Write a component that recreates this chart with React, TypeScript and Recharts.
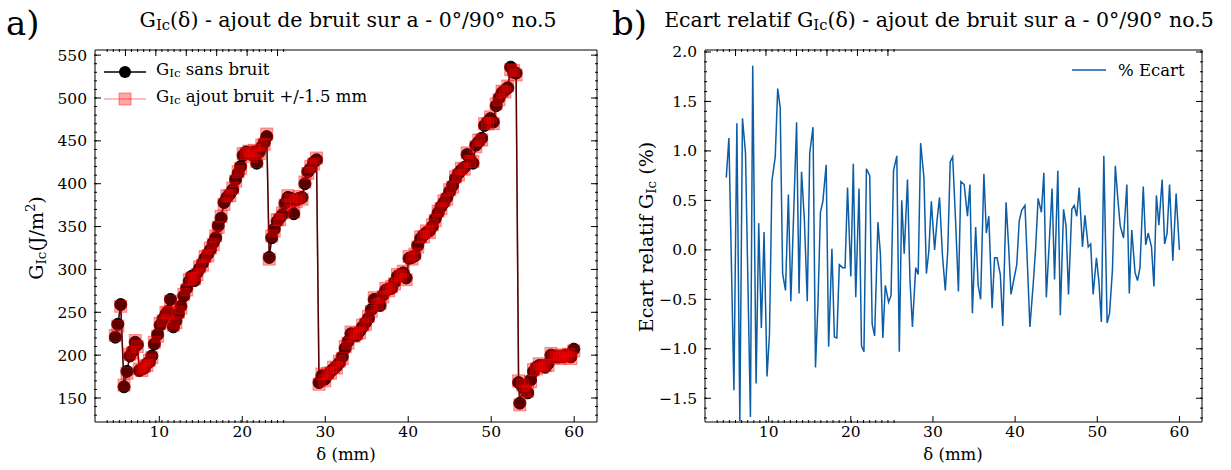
import React from "react";
import { ComposedChart, LineChart, Line, XAxis, YAxis } from "recharts";

// delta (mm) for the G_Ic curves
const gx = [
  4.7, 5.0, 5.35, 5.75, 6.1, 6.45, 6.8, 7.1, 7.35, 7.6,
  7.9, 8.2, 8.5, 8.8, 9.1, 9.4, 9.8, 10.1, 10.45, 10.8,
  11.05, 11.35, 11.7, 12.0, 12.3, 12.6, 12.95, 13.3, 13.6, 13.9,
  14.25, 14.55, 14.85, 15.2, 15.5, 15.85, 16.15, 16.5, 16.8, 17.1,
  17.45, 17.8, 18.15, 18.5, 18.85, 19.2, 19.5, 19.8, 20.1, 20.45,
  20.8, 21.1, 21.45, 21.75, 22.05, 22.35, 22.65, 22.95, 23.25, 23.55,
  23.85, 24.2, 24.5, 24.85, 25.15, 25.5, 25.85, 26.2, 26.5, 26.85,
  27.2, 27.55, 27.9, 28.25, 28.6, 28.95, 29.25, 29.6, 29.95, 30.3,
  30.65, 31.0, 31.35, 31.7, 32.05, 32.4, 32.75, 33.1, 33.45, 33.8,
  34.15, 34.5, 34.85, 35.2, 35.55, 35.9, 36.25, 36.6, 36.95, 37.3,
  37.65, 38.0, 38.35, 38.7, 39.05, 39.4, 39.75, 40.1, 40.45, 40.8,
  41.15, 41.5, 41.85, 42.2, 42.55, 42.9, 43.25, 43.6, 43.95, 44.3,
  44.65, 45.0, 45.35, 45.7, 46.05, 46.4, 46.75, 47.1, 47.45, 47.8,
  48.15, 48.5, 48.85, 49.2, 49.55, 49.9, 50.25, 50.6, 50.95, 51.3,
  51.65, 52.0, 52.35, 52.7, 53.0, 53.3, 53.45, 53.8, 54.1, 54.4,
  54.75, 55.1, 55.45, 55.8, 56.15, 56.5, 56.85, 57.2, 57.55, 57.9,
  58.25, 58.6, 58.95, 59.3, 59.6, 59.95,
];

const gSans = [
  221, 236, 259, 163, 181, 199, 205, 215, 212, 182,
  184, 185, 190, 192, 199, 213, 224, 235, 242, 248,
  251, 265, 233, 240, 248, 257, 269, 278, 286, 292,
  287, 296, 301, 307, 313, 318, 323, 331, 337, 351,
  360, 378, 384, 388, 393, 405, 412, 420, 433, 437,
  436, 434, 437, 424, 437, 443, 448, 455, 314, 337,
  347, 356, 360, 364, 377, 384, 383, 365, 381, 383,
  384, 400, 414, 418, 425, 428, 168, 176, 172, 177,
  181, 184, 187, 191, 198, 208, 216, 225, 224, 223,
  228, 233, 238, 243, 253, 265, 260, 258, 270, 276,
  277, 278, 285, 292, 294, 296, 290, 313, 314, 316,
  328, 336, 340, 343, 345, 350, 359, 366, 373, 378,
  384, 391, 398, 406, 412, 416, 419, 434, 428, 424,
  445, 449, 453, 468, 472, 476, 472, 491, 500, 506,
  509, 512, 536, 530, 529, 168, 144, 163, 160, 156,
  171, 181, 186, 188, 188, 186, 190, 200, 199, 198,
  198, 198, 200, 199, 198, 207,
];

const gBruit = [
  223, 234, 257, 165, 179, 201, 203, 217, 210, 184,
  182, 187, 188, 194, 197, 215, 222, 237, 240, 250,
  249, 263, 235, 238, 250, 255, 271, 276, 288, 290,
  289, 294, 303, 305, 315, 316, 325, 329, 339, 349,
  362, 376, 386, 386, 395, 403, 414, 418, 435, 435,
  438, 432, 439, 426, 435, 445, 446, 458, 312, 339,
  345, 358, 358, 366, 375, 386, 381, 367, 379, 385,
  382, 402, 412, 420, 423, 430, 166, 178, 170, 179,
  179, 186, 185, 193, 196, 210, 214, 227, 222, 225,
  226, 235, 236, 245, 251, 267, 258, 260, 268, 278,
  275, 280, 283, 294, 292, 298, 288, 315, 312, 318,
  326, 338, 338, 345, 343, 352, 357, 368, 371, 380,
  382, 393, 396, 408, 410, 418, 417, 436, 426, 426,
  443, 451, 451, 470, 470, 478, 470, 493, 498, 508,
  507, 514, 533, 532, 527, 170, 142, 165, 158, 158,
  169, 183, 184, 190, 186, 188, 188, 202, 197, 200,
  196, 200, 198, 201, 196, 205,
];

// delta (mm) and relative gap (%) for panel b
const ex = [
  4.84, 5.16, 5.77, 6.13, 6.49, 6.81, 7.18, 7.78, 8.06, 8.47,
  8.79, 9.11, 9.44, 9.8, 10.1, 10.4, 10.8, 11.1, 11.4, 11.7,
  12.05, 12.4, 12.7, 13.4, 13.7, 14.0, 14.35, 14.7, 15.0, 15.4,
  15.7, 16.0, 16.3, 16.6, 17.0, 17.3, 17.7, 18.0, 18.3, 18.6,
  19.0, 19.3, 19.6, 20.0, 20.3, 20.6, 21.0, 21.3, 21.6, 21.9,
  22.3, 22.6, 22.9, 23.3, 23.6, 23.9, 24.2, 24.6, 24.9, 25.2,
  25.6, 25.9, 26.2, 26.5, 26.9, 27.2, 27.5, 27.9, 28.2, 28.5,
  28.9, 29.2, 29.5, 29.8, 30.2, 30.5, 30.8, 31.15, 31.5, 31.8,
  32.1, 32.4, 32.75, 33.1, 33.4, 33.8, 34.2, 34.5, 34.8, 35.2,
  35.5, 35.8, 36.2, 36.5, 36.8, 37.2, 37.5, 37.8, 38.2, 38.5,
  38.9, 39.2, 39.5, 39.8, 40.2, 40.5, 40.8, 41.2, 41.5, 41.8,
  42.2, 42.5, 42.8, 43.2, 43.5, 43.8, 44.2, 44.5, 44.8, 45.2,
  45.5, 45.9, 46.2, 46.5, 46.9, 47.2, 47.5, 47.8, 48.2, 48.5,
  48.9, 49.2, 49.5, 49.9, 50.2, 50.5, 50.8, 51.2, 51.5, 51.85,
  52.2, 52.5, 52.8, 53.2, 53.6, 53.9, 54.2, 54.6, 54.9, 55.2,
  55.6, 55.9, 56.2, 56.6, 56.9, 57.2, 57.5, 57.9, 58.2, 58.5,
  58.8, 59.2, 59.6, 60.0,
];

const ecart = [
  0.73, 1.13, -1.42, 1.28, -1.73, 1.33, 0.98, -1.69, 1.86, -1.35,
  0.27, -0.79, 0.18, -1.28, -0.85, 0.7, 0.94, 1.63, 1.44, -0.24,
  -0.41, 0.56, -0.52, 1.29, -0.44, 0.79, 0.3, -0.52, 0.98, 1.24,
  -1.19, -0.55, 0.38, 0.49, 0.86, -0.98, 0.01, -0.88, -0.89, -0.15,
  -0.18, -0.18, 0.63, -0.27, 0.87, -0.48, 0.62, -0.97, -1.03, 0.82,
  0.75, -0.75, -0.87, 0.28, -0.04, -0.89, -0.36, -0.53, -0.46, 0.8,
  0.95, -1.03, 0.5, -0.04, 0.71, -0.3, -0.78, -0.18, -0.25, 1.08,
  0.73, -0.24, -0.01, 0.49, 0.0, 0.3, 0.53, -0.05, -0.41, -0.01,
  0.89, 0.94, 0.3, -0.42, 0.69, 0.66, 0.34, 0.66, -0.64, 0.23,
  -0.36, -0.5, 0.77, 0.17, 0.34, -0.59, -0.08, -0.08, -0.25, -0.77,
  0.48, 0.05, -0.45, -0.32, -0.15, 0.29, 0.4, 0.45, -0.15, -0.78,
  -0.35, 0.02, 0.52, 0.38, 0.78, -0.48, 0.14, 0.62, -0.3, 0.8,
  -0.66, 0.41, 0.24, -0.45, 0.41, 0.45, 0.34, 0.63, 0.03, 0.35,
  0.03, 0.06, -0.45, -0.08, -0.32, -0.73, 0.95, -0.74, -0.64, -0.2,
  0.85, 0.52, 0.24, 0.12, 0.66, -0.44, 0.2, -0.23, -0.31, -0.18,
  0.64, 0.05, 0.17, 0.03, -0.37, 0.55, 0.25, 0.71, 0.06, 0.17,
  0.66, -0.11, 0.57, 0.0,
];

const xMajor = [10, 20, 30, 40, 50, 60];
const gMajor = [150, 200, 250, 300, 350, 400, 450, 500, 550];
const eMajor = [-1.5, -1.0, -0.5, 0.0, 0.5, 1.0, 1.5, 2.0];

function range(a: number, b: number, s: number) {
  const out: number[] = [];
  for (let v = a; v <= b + 1e-9; v += s) out.push(Math.round(v * 100) / 100);
  return out;
}

const xMinor = range(4, 62, 2);
const gMinor = range(130, 550, 10);
const eMinor = range(-1.7, 2.0, 0.1);

const X_DOMAIN = [2.25, 62.75];
const FONT = "DejaVu Serif";
const BLUE = "#0C5DA5";
const TXT = 16.5;
const tickStyle = { fill: "#000", fontSize: 15.5, fontFamily: FONT };
const empty = () => "";

const leftData = gx.map((x, i) => ({ x, sans: gSans[i], bruit: gBruit[i] }));
const rightData = ex.map((x, i) => ({ x, ecart: ecart[i] }));

const fmtE = (v: number) => v.toFixed(1).replace("-", "\u2212");

// ticks inside on all four sides, like the scienceplots style
// (axes need a size of at least 1px or recharts skips them)
function frame(yDomain: number[], yMajor: number[], yMinor: number[], yFmt?: (v: number) => string) {
  const line = { stroke: "#000", strokeWidth: 1 };
  return [
    <XAxis key="xb" xAxisId="x" type="number" dataKey="x" domain={X_DOMAIN} ticks={xMajor}
      allowDataOverflow interval={0} height={1} tickSize={-6} tickMargin={10}
      tick={tickStyle} axisLine={line} tickLine={line} />,
    <XAxis key="xbm" xAxisId="xbm" type="number" domain={X_DOMAIN} ticks={xMinor}
      allowDataOverflow interval={0} height={1} tickSize={-3} tickFormatter={empty}
      axisLine={false} tickLine={line} />,
    <XAxis key="xt" xAxisId="xt" orientation="top" type="number" domain={X_DOMAIN} ticks={xMajor}
      allowDataOverflow interval={0} height={1} tickSize={-6} tickFormatter={empty}
      axisLine={line} tickLine={line} />,
    <XAxis key="xtm" xAxisId="xtm" orientation="top" type="number" domain={X_DOMAIN} ticks={xMinor}
      allowDataOverflow interval={0} height={1} tickSize={-3} tickFormatter={empty}
      axisLine={false} tickLine={line} />,
    <YAxis key="yl" yAxisId="y" type="number" domain={yDomain} ticks={yMajor}
      allowDataOverflow interval={0} width={1} tickSize={-6} tickMargin={14}
      tick={tickStyle} tickFormatter={yFmt} axisLine={line} tickLine={line} />,
    <YAxis key="ylm" yAxisId="ylm" type="number" domain={yDomain} ticks={yMinor}
      allowDataOverflow interval={0} width={1} tickSize={-3} tickFormatter={empty}
      axisLine={false} tickLine={line} />,
    <YAxis key="yr" yAxisId="yr" orientation="right" type="number" domain={yDomain} ticks={yMajor}
      allowDataOverflow interval={0} width={1} tickSize={-6} tickFormatter={empty}
      axisLine={line} tickLine={line} />,
    <YAxis key="yrm" yAxisId="yrm" orientation="right" type="number" domain={yDomain} ticks={yMinor}
      allowDataOverflow interval={0} width={1} tickSize={-3} tickFormatter={empty}
      axisLine={false} tickLine={line} />,
  ];
}

const SquareDot = (props: any) => {
  const { cx, cy, index } = props;
  if (cx == null || cy == null) return null;
  return (
    <rect key={`sq-${index}`} x={cx - 6} y={cy - 6} width={12} height={12}
      fill="#ff0000" fillOpacity={0.35} stroke="#ff0000" strokeOpacity={0.4} strokeWidth={1} />
  );
};

const Gic = () => (
  <>
    G<sub style={{ fontSize: "0.72em", verticalAlign: "-0.2em" }}>Ic</sub>
  </>
);

const abs = (left: number, top: number, extra: React.CSSProperties = {}): React.CSSProperties => ({
  position: "absolute", left, top, fontFamily: FONT, color: "#000", whiteSpace: "nowrap", ...extra,
});

export default function App() {
  return (
    <div style={{ position: "absolute", left: 0, top: 0, width: 1231, height: 470, background: "#fff" }}>
      <div style={{ position: "absolute", left: 0, top: 0 }}>
        <ComposedChart width={620} height={470} data={leftData}
          margin={{ top: 48, right: 21, bottom: 46, left: 93 }}>
          {frame([122, 556], gMajor, gMinor)}
          <Line xAxisId="x" yAxisId="y" type="linear" dataKey="sans" stroke="#000" strokeWidth={1.5}
            dot={{ r: 6, fill: "#000", stroke: "#000", strokeWidth: 1 }} isAnimationActive={false} />
          <Line xAxisId="x" yAxisId="y" type="linear" dataKey="bruit" stroke="#ff0000" strokeOpacity={0.35}
            strokeWidth={1.5} dot={SquareDot} isAnimationActive={false} />
        </ComposedChart>
      </div>
      <div style={{ position: "absolute", left: 620, top: 0 }}>
        <LineChart width={611} height={470} data={rightData}
          margin={{ top: 48, right: 27, bottom: 46, left: 83 }}>
          {frame([-1.74, 2.02], eMajor, eMinor, fmtE)}
          <Line xAxisId="x" yAxisId="y" type="linear" dataKey="ecart" stroke={BLUE} strokeWidth={1.5}
            dot={false} isAnimationActive={false} />
        </LineChart>
      </div>

      {/* panel letters and titles */}
      <div style={abs(6, 4, { fontSize: 34, lineHeight: "38px" })}>a)</div>
      <div style={abs(612, 4, { fontSize: 34, lineHeight: "38px" })}>b)</div>
      <div style={abs(348, 8, { fontSize: 20.5, transform: "translateX(-50%)" })}>
        <Gic />(δ) - ajout de bruit sur a - 0°/90° no.5
      </div>
      <div style={abs(939, 8, { fontSize: 20.5, transform: "translateX(-50%)" })}>
        Ecart relatif <Gic />(δ) - ajout de bruit sur a - 0°/90° no.5
      </div>

      {/* axis labels */}
      <div style={abs(346, 446, { fontSize: TXT, lineHeight: "17px", transform: "translateX(-50%)" })}>δ (mm)</div>
      <div style={abs(953, 446, { fontSize: TXT, lineHeight: "17px", transform: "translateX(-50%)" })}>δ (mm)</div>
      <div style={abs(36, 238, { fontSize: 19, transform: "translate(-50%, -50%) rotate(-90deg)" })}>
        <Gic />(J/m<sup style={{ fontSize: "0.7em" }}>2</sup>)
      </div>
      <div style={abs(647, 237, { fontSize: 19, transform: "translate(-50%, -50%) rotate(-90deg)" })}>
        Ecart relatif <Gic /> (%)
      </div>

      {/* legend a) */}
      <div style={abs(102, 58, { fontSize: TXT, lineHeight: "24px" })}>
        <div style={{ display: "flex", alignItems: "center" }}>
          <svg width={46} height={24}>
            <line x1={2} y1={12} x2={44} y2={12} stroke="#000" strokeWidth={1.5} />
            <circle cx={23} cy={12} r={6} fill="#000" />
          </svg>
          <span style={{ marginLeft: 8 }}><Gic /> sans bruit</span>
        </div>
        <div style={{ display: "flex", alignItems: "center" }}>
          <svg width={46} height={24}>
            <line x1={2} y1={12} x2={44} y2={12} stroke="#ff0000" strokeOpacity={0.35} strokeWidth={1.5} />
            <rect x={17} y={6} width={12} height={12} fill="#ff0000" fillOpacity={0.35}
              stroke="#ff0000" strokeOpacity={0.4} />
          </svg>
          <span style={{ marginLeft: 8 }}><Gic /> ajout bruit +/-1.5 mm</span>
        </div>
      </div>

      {/* legend b) */}
      <div style={abs(1070, 58, { fontSize: TXT, display: "flex", alignItems: "center" })}>
        <svg width={38} height={24}>
          <line x1={2} y1={12} x2={36} y2={12} stroke={BLUE} strokeWidth={1.5} />
        </svg>
        <span style={{ marginLeft: 10 }}>% Ecart</span>
      </div>
    </div>
  );
}
